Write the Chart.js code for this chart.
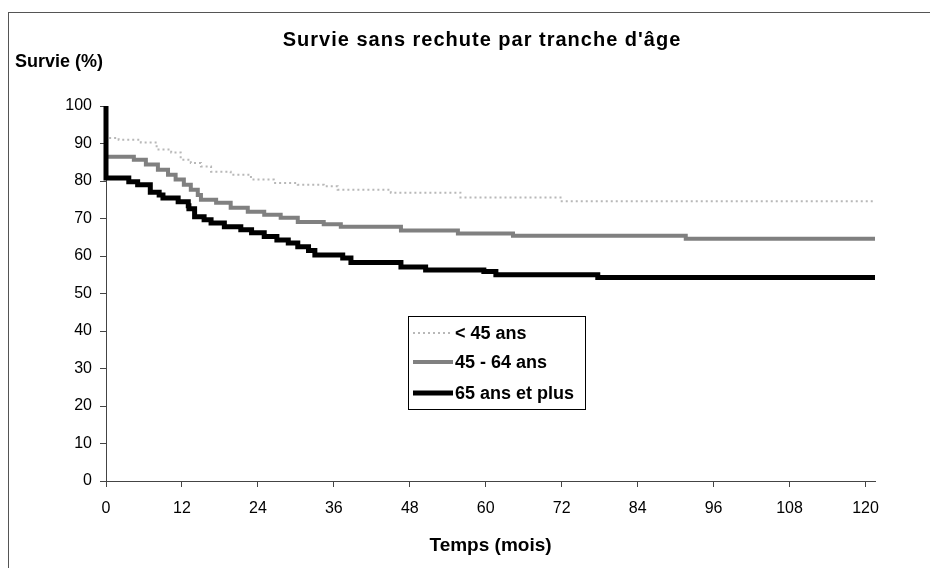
<!DOCTYPE html>
<html>
<head>
<meta charset="utf-8">
<script src="https://cdn.jsdelivr.net/npm/chart.js@4.4.1/dist/chart.umd.min.js"></script>
<style>
  body { margin: 0; background: #fff; }
  #wrap { position: relative; width: 930px; height: 568px; }
  #frame { position: absolute; left: 8px; top: 12px; right: 0; bottom: 0; border-top: 1px solid #555; border-left: 1px solid #555; }
  canvas { position: absolute; left: 0; top: 0; }
</style>
</head>
<body>
<div id="wrap">
  <div id="frame"></div>
  <canvas id="survChart" width="930" height="568"></canvas>
</div>
<script>
// Kaplan-Meier steps (months, % survival)
const seriesNames = ["< 45 ans", "45 - 64 ans", "65 ans et plus"];

const timesUnder45 = [0, 0, 2, 5.5, 8, 10.3, 11.8, 13.4, 15, 16.6, 19.7, 22.9, 26.5, 30.3, 34.4, 36.6, 45, 56, 72, 104, 121.5];
const survUnder45  = [100, 92, 91.5, 91, 90.3, 88.4, 87.6, 85.7, 84.8, 83.9, 82.5, 81.7, 80.4, 79.5, 79, 78.6, 77.7, 76.9, 75.6, 74.6, 74.6];

const times45to64 = [0, 0, 4.4, 6.3, 8.2, 9.8, 11, 12.3, 13.4, 14.5, 15, 17.4, 19.7, 22.4, 25, 27.6, 30.3, 34.4, 37.1, 46.6, 55.6, 64.3, 91.6, 113, 121.5];
const surv45to64  = [100, 87, 86.5, 85.7, 84.4, 83, 81.7, 80.4, 79, 77.7, 76.3, 75, 74.2, 72.9, 71.8, 71, 70.2, 69.1, 68.5, 67.8, 66.8, 66, 65.4, 64.6, 64.6];

const times65plus = [0, 0, 3.6, 5, 7, 8.4, 9, 11.4, 13, 13.1, 14, 15.5, 16.6, 18.7, 21.3, 23, 25, 27, 28.8, 30.3, 32, 33, 37.4, 38.7, 46.6, 50.5, 59.7, 61.6, 77.7, 97.9, 121.5];
const surv65plus  = [100, 81.5, 80.8, 79.8, 79, 77, 76.3, 75.5, 74.5, 73.4, 72.6, 70.5, 69.7, 68.8, 67.8, 67, 66.2, 65.2, 64.3, 63.5, 62.5, 61.5, 60.3, 59.5, 58.3, 57.1, 56.3, 55.9, 55, 54.3, 54.3];

const xTicks = [0, 12, 24, 36, 48, 60, 72, 84, 96, 108, 120];
const yTicks = [0, 10, 20, 30, 40, 50, 60, 70, 80, 90, 100];

const FONT = "'Liberation Sans', Arial, sans-serif";

function pts(ts, vs) {
    return ts.map((t, i) => ({ x: t, y: vs[i] }));
}

// titles + boxed legend drawn on top of the plot
const decor = {
    id: 'decor',
    afterDraw(chart) {
        const ctx = chart.ctx;
        ctx.save();
        ctx.fillStyle = '#000';
        ctx.textBaseline = 'middle';
        ctx.font = 'bold 20px ' + FONT;
        ctx.textAlign = 'center';
        ctx.letterSpacing = '1px';
        ctx.fillText("Survie sans rechute par tranche d'âge", 482, 40);
        ctx.letterSpacing = '0px';
        ctx.font = 'bold 18px ' + FONT;
        ctx.textAlign = 'left';
        ctx.fillText("Survie (%)", 15, 62);

        // legend box
        ctx.strokeStyle = '#000';
        ctx.lineWidth = 1;
        ctx.strokeRect(408.5, 316.5, 177, 93);
        const rows = [333, 362, 393];
        [0, 1, 2].forEach((dsIndex, r) => {
            const ds = chart.data.datasets[dsIndex];
            ctx.beginPath();
            ctx.setLineDash(ds.borderDash || []);
            ctx.strokeStyle = ds.borderColor;
            ctx.lineWidth = ds.borderWidth;
            ctx.moveTo(413, rows[r]);
            ctx.lineTo(453, rows[r]);
            ctx.stroke();
            ctx.setLineDash([]);
            ctx.font = 'bold 18px ' + FONT;
            ctx.fillStyle = '#000';
            ctx.fillText(ds.label, 455, rows[r] + 1);
        });
        ctx.restore();
    }
};

const ctx = document.getElementById("survChart").getContext("2d");
const chart = new Chart(ctx, {
    type: 'line',
    data: {
        datasets: [
            {
                label: seriesNames[0],
                data: pts(timesUnder45, survUnder45),
                borderColor: '#b8b8b8',
                borderWidth: 2,
                borderDash: [2, 3],
                order: 2
            },
            {
                label: seriesNames[1],
                data: pts(times45to64, surv45to64),
                borderColor: '#808080',
                borderWidth: 4,
                order: 1
            },
            {
                label: seriesNames[2],
                data: pts(times65plus, surv65plus),
                borderColor: '#000',
                borderWidth: 5,
                order: 0
            }
        ]
    },
    options: {
        responsive: false,
        animation: false,
        events: [],
        layout: { padding: { top: 106, left: 0, right: 55, bottom: 8 } },
        elements: {
            line: { stepped: 'after', tension: 0, fill: false },
            point: { radius: 0 }
        },
        datasets: { line: { clip: false } },
        plugins: {
            legend: { display: false },
            tooltip: { enabled: false },
            title: { display: false }
        },
        scales: {
            x: {
                type: 'linear',
                min: 0,
                max: 121.5,
                afterBuildTicks: (s) => { s.ticks = xTicks.map(v => ({ value: v })); },
                afterFit: (s) => { s.height = 79; },
                grid: { drawOnChartArea: false, tickLength: 6, color: '#444' },
                border: { color: '#444', width: 1 },
                ticks: { color: '#000', font: { family: FONT, size: 16 }, padding: 12, maxRotation: 0 },
                title: {
                    display: true,
                    text: 'Temps (mois)',
                    color: '#000',
                    font: { family: FONT, size: 19, weight: 'bold' },
                    padding: { top: 0, bottom: 3 }
                }
            },
            y: {
                min: 0,
                max: 100,
                afterBuildTicks: (s) => { s.ticks = yTicks.map(v => ({ value: v })); },
                afterFit: (s) => { s.width = 106; },
                grid: { drawOnChartArea: false, tickLength: 6, color: '#444' },
                border: { color: '#444', width: 1 },
                ticks: { color: '#000', font: { family: FONT, size: 16 }, padding: 8 }
            }
        }
    },
    plugins: [decor]
});
</script>
</body>
</html>
